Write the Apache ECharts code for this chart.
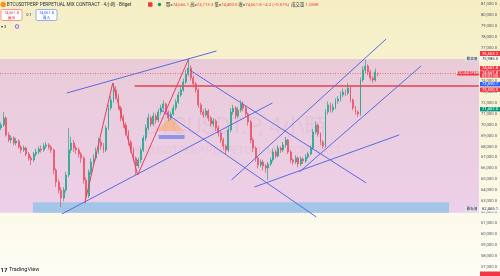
<!DOCTYPE html>
<html><head><meta charset="utf-8">
<script src="https://cdn.jsdelivr.net/npm/echarts@6/dist/echarts.min.js"></script>
<style>html,body{margin:0;padding:0;background:#fff}#c{width:500px;height:276px}</style>
</head><body><div id="c"></div>
<script>
// 4h candles: [open, close, low, high]
const candles = [
[69700,69960,69500,70200],[69960,70600,69800,71150],[70600,69050,68900,70750],[69050,68590,68400,69300],
[68590,68770,68300,69000],[68770,68320,68100,68950],[68320,68500,68100,68800],[68500,67950,67800,68650],
[67950,67680,67400,68100],[67680,67860,67500,68100],[67860,67310,67100,68000],[67310,66950,66700,67500],
[66950,66770,66300,67150],[66770,67310,66600,67500],[67310,67500,67100,67800],[67500,67770,67300,68000],
[67770,67680,67450,68100],[67680,68040,67500,68300],[68040,68140,67800,68400],[68140,67950,67700,68300],
[67950,67680,67400,68100],[67680,65850,65500,67800],[65850,64760,64300,66000],[64760,64030,63700,65000],
[64030,63300,62465.1,64300],[63300,64030,63000,64300],[64030,65400,63800,65700],[65400,67680,65200,69700],
[67680,68320,67400,68900],[68320,67860,67500,68600],[67860,67680,67300,68100],[67680,67310,67000,67900],
[67310,66950,66500,67500],[66950,64940,64600,67100],[64940,63480,62840,65200],[63480,65670,63300,65900],
[65670,66580,65400,66900],[66580,66950,66300,67300],[66950,67500,66700,67900],[67500,68410,67300,68800],
[68410,68040,67700,68700],[68040,67680,67400,68300],[67680,69690,67500,69900],[69690,71510,69500,71800],
[71510,72240,71300,72600],[72240,73150,72000,73790],[73150,72610,72300,73500],[72610,71510,71300,72800],
[71510,70600,70300,71700],[70600,69960,69700,70900],[69960,69320,69000,70200],[69320,68410,68100,69500],
[68410,67680,67400,68600],[67680,66950,66600,67900],[66950,66220,65400,67100],[66220,66770,66000,67000],
[66770,67680,66500,67900],[67680,68770,67500,69000],[68770,69690,68500,70000],[69690,70600,69500,71000],
[70600,70050,69800,70800],[70050,70780,69900,71100],[70780,70420,70100,71000],[70420,71150,70200,71400],
[71150,71510,70900,71800],[71510,71880,71300,72200],[71880,71150,70900,72000],[71150,70600,70300,71300],
[70600,70960,70400,71200],[70960,71510,70800,71800],[71510,72060,71300,72300],[72060,72700,71900,73000],
[72700,73150,72500,73500],[73150,73880,73000,74200],[73880,74610,73700,75000],[74610,75160,74400,75985.5],
[75160,74250,74000,75400],[74250,73700,73400,74500],[73700,73150,72900,73900],[73150,71790,71500,73300],
[71790,71150,70900,72000],[71150,70870,70600,71400],[70870,71240,70700,71500],[71240,70600,70300,71400],
[70600,70050,69800,70800],[70050,70330,69800,70600],[70330,69690,69400,70500],[69690,69230,68900,69900],
[69230,68590,68300,69400],[68590,68040,67700,68800],[68040,67680,67300,68200],[67680,69500,67500,69800],
[69500,71150,69300,71500],[71150,71510,70900,71800],[71510,70780,70500,71700],[70780,71330,70600,71600],
[71330,71880,71100,72200],[71880,71510,71200,72100],[71510,70960,70700,71700],[70960,70230,69900,71100],
[70230,68590,68300,70400],[68590,67860,67500,68800],[67860,66950,66600,68000],[66950,66310,66000,67100],
[66310,66580,66100,66800],[66580,66220,65800,66800],[66220,66040,65600,66400],[66040,66400,64940,66600],
[66400,66770,66200,67000],[66770,67500,66600,67800],[67500,67130,66900,67700],[67130,67860,67000,68100],
[67860,67680,67400,68000],[67680,68140,67500,68400],[68140,68590,67900,68870],[68590,67500,67300,68700],
[67500,66770,66500,67700],[66770,66580,66300,66900],[66580,66950,66400,67200],[66950,66400,66100,67100],
[66400,66860,66200,67100],[66860,66680,66400,67000],[66680,67040,66500,67300],[67040,67310,66900,67500],
[67310,67860,67200,68100],[67860,69320,67700,69600],[69320,69960,69100,70300],[69960,69140,68900,70100],
[69140,68410,68100,69300],[68410,68040,67800,68600],[68040,71150,67900,71400],[71150,71790,70900,72100],
[71790,71330,71100,72000],[71330,71600,71100,71900],[71600,72150,71400,72400],[72150,72330,71900,72600],
[72330,72700,72100,73000],[72700,72970,72500,73300],[72970,72880,72600,73200],[72880,73340,72700,73790],
[73340,72240,72000,73500],[72240,71510,71300,72400],[71510,71150,70900,71700],[71150,70960,70700,71300],
[70960,74070,70800,74300],[74070,74980,73900,75300],[74980,75340,74700,75890],[75340,74800,74500,75500],
[74800,74250,74000,75000],[74250,74070,73800,74400],[74070,74800,73900,75100],[74666.1,74661.8,74400,74713.3]
];
const slotCount = 192; // bars visible including empty space to the right

// trend lines: [barIndex1, price1, barIndex2, price2]
const trendLines = [
  [26.3, 72880, 86.3, 76712],
  [24.3, 61840, 108.7, 71967],
  [75.5, 74978, 146.3, 64668],
  [63.5, 71420, 126.3, 61566],
  [92.3, 64942, 154.3, 77807],
  [119.5, 65672, 168.3, 75343],
  [101.5, 64303, 159.5, 69048]
];
const zigzag = [[33.5, 62843], [44.7, 73792], [54.7, 65398], [75.1, 75985.5]];
const resistance = { from: 53.5, to: 191.5, price: 73500 };
const lastPrice = 74661.8;
const rangeBox = [75985.5, 61950];
const demandZone = [12.7, 62900, 179.5, 61950];
const arrowTriangle = [[62.3, 69413], [67.9, 70690], [73.1, 69413]];
const arrowBar = [63.1, 69048, 73.5, 68683];

const slots = candles.map((_, i) => 'b' + i);
while (slots.length < slotCount) slots.push('f' + slots.length);

const FONT = 'Roboto, "Noto Sans CJK TC", sans-serif';
const chart = echarts.init(document.getElementById('c'), null, { renderer: 'canvas' });
const fmt = v => v.toLocaleString('en-US', { minimumFractionDigits: 1, maximumFractionDigits: 1 });

function tag(y, h, fill, lines, txtColor) {
  const els = [{ type: 'rect', shape: { x: 480, y: y, width: 20, height: h }, style: { fill: fill }, z: 50 }];
  lines.forEach((t, k) => els.push({ type: 'text', x: 482, y: y + h / (lines.length * 2) * (2 * k + 1), z: 51,
    style: { text: t, fill: txtColor || '#fff', font: '4.2px ' + FONT, verticalAlign: 'middle' } }));
  return els;
}
function sideTag(x, y, w, h, fill, t, col) {
  return [{ type: 'rect', shape: { x: x, y: y, width: w, height: h, r: 0.8 }, style: { fill: fill }, z: 50 },
    { type: 'text', x: x + w / 2, y: y + h / 2, z: 51, style: { text: t, fill: col, font: '3.6px ' + FONT, align: 'center', verticalAlign: 'middle' } }];
}

const graphics = [].concat(
  // watermark
  [{ type: 'text', x: 236, y: 128, z: 1, style: { text: 'BTCUSDT.P, 4小時', font: '23px ' + FONT, fill: 'rgba(170,110,150,0.13)', align: 'center', verticalAlign: 'middle' } },
   { type: 'text', x: 237, y: 151, z: 1, style: { text: 'BTCUSDTPERP PERPETUAL MIX CONTRACT', font: '10.5px ' + FONT, fill: 'rgba(170,110,150,0.13)', align: 'center', verticalAlign: 'middle' } }],
  // header row 1
  [{ type: 'circle', shape: { cx: 3.2, cy: 4.5, r: 2.7 }, style: { fill: '#f7931a' } },
   { type: 'text', x: 6.8, y: 4.6, style: { text: 'BTCUSDTPERP PERPETUAL MIX CONTRACT · 4小時 · Bitget', font: '4.7px ' + FONT, fill: '#2a2e39', verticalAlign: 'middle' } },
   { type: 'rect', shape: { x: 148, y: 2.2, width: 4.5, height: 4.5, r: 0.6 }, style: { fill: '#f23645' } },
   { type: 'circle', shape: { cx: 159.5, cy: 4.5, r: 1.7 }, style: { fill: '#089981' } },
   { type: 'text', x: 166, y: 4.6, style: { text: '{k|開=}{v|74,666.1} {k|高=}{v|74,713.3} {k|低=}{v|74,400.0} {k|收=}{v|74,661.8 −4.3 (−0.01%)}  {k|成交量} {v|1.285K}',
       font: '4.3px ' + FONT, verticalAlign: 'middle', rich: { k: { fill: '#2a2e39', font: '4.3px ' + FONT }, v: { fill: '#f23645', font: '4.3px ' + FONT } } } }],
  // header row 2: sell / buy boxes
  [{ type: 'rect', shape: { x: 1, y: 9.5, width: 21, height: 11, r: 1.5 }, style: { fill: '#fff', stroke: '#f23645', lineWidth: 0.5 } },
   { type: 'text', x: 11.5, y: 12.8, style: { text: '74,661.8', font: '3.8px ' + FONT, fill: '#f23645', align: 'center', verticalAlign: 'middle' } },
   { type: 'text', x: 11.5, y: 17.6, style: { text: '賣出', font: '3.8px ' + FONT, fill: '#f23645', align: 'center', verticalAlign: 'middle' } },
   { type: 'text', x: 29, y: 15, style: { text: '0.1', font: '4px ' + FONT, fill: '#2a2e39', align: 'center', verticalAlign: 'middle' } },
   { type: 'rect', shape: { x: 36, y: 9.5, width: 21, height: 11, r: 1.5 }, style: { fill: '#fff', stroke: '#2962ff', lineWidth: 0.5 } },
   { type: 'text', x: 46.5, y: 12.8, style: { text: '74,661.8', font: '3.8px ' + FONT, fill: '#2962ff', align: 'center', verticalAlign: 'middle' } },
   { type: 'text', x: 46.5, y: 17.6, style: { text: '買入', font: '3.8px ' + FONT, fill: '#2962ff', align: 'center', verticalAlign: 'middle' } },
   { type: 'text', x: 1, y: 26.5, style: { text: '▾ 3', font: '4px ' + FONT, fill: '#2a2e39', verticalAlign: 'middle' } },
   { type: 'circle', shape: { cx: 17, cy: 26.5, r: 1.8 }, style: { fill: 'none', stroke: '#7b61ff', lineWidth: 1 } }],
  // price tags on the scale
  tag(51, 5, '#f23645', ['76,563.2']),
  tag(56.8, 4.6, '#f7f7f4', [fmt(rangeBox[0])], '#2a2e39'),
  sideTag(465, 56.9, 14, 4.4, '#e4e6ee', '最高價', '#2a2e39'),
  tag(66, 4.6, '#f23645', [fmt(lastPrice)]),
  tag(71, 6.6, '#f23645', [fmt(lastPrice), '03:37:00']),
  sideTag(457, 71, 22, 4.4, '#f23645', 'BTCUSDTPERP', '#fff'),
  tag(82, 4.4, '#2962ff', ['73,890.1']),
  tag(87.5, 4.4, '#f23645', [fmt(resistance.price)]),
  tag(107, 4.4, '#089981', ['71,467.0']),
  tag(207, 4.6, '#f7f7f4', ['62,465.1'], '#2a2e39'),
  sideTag(465, 207.1, 14, 4.4, '#e4e6ee', '最低價', '#2a2e39'),
  tag(271.5, 4.5, '#f23645', ['']),
  // logo
  [{ type: 'text', x: 0.5, y: 270, style: { text: '17', font: 'bold 6px ' + FONT, fill: '#131722', verticalAlign: 'middle' } },
   { type: 'text', x: 9, y: 270, style: { text: 'TradingView', font: '5.5px ' + FONT, fill: '#131722', verticalAlign: 'middle' } }]
);

chart.setOption({
  animation: false,
  backgroundColor: { type: 'linear', x: 0, y: 0, x2: 0, y2: 1,
    colorStops: [{ offset: 0, color: '#f5eec3' }, { offset: 1, color: '#fefdf5' }] },
  grid: { left: 0, right: 20, top: 4, height: 263 },
  xAxis: [
    { type: 'category', data: slots, boundaryGap: true, show: false },
    { type: 'value', min: -0.5, max: slotCount - 0.5, show: false }
  ],
  yAxis: {
    type: 'value', position: 'right', min: 57000, max: 81000, interval: 1000, scale: true,
    splitLine: { show: false }, axisLine: { show: false }, axisTick: { show: false },
    axisLabel: { margin: 2, fontSize: 4.2, color: '#50535e', fontFamily: FONT, formatter: fmt }
  },
  series: [
    { name: 'zones', type: 'line', xAxisIndex: 1, data: [], z: 0, silent: true,
      markArea: { silent: true, data: [
        [{ yAxis: rangeBox[0], itemStyle: { color: 'rgba(214,150,232,0.42)' } }, { yAxis: rangeBox[1] }],
        [{ coord: [demandZone[0], demandZone[1]], itemStyle: { color: 'rgba(150,195,230,0.85)' } }, { coord: [demandZone[2], demandZone[3]] }],
        [{ coord: [arrowBar[0], arrowBar[1]], itemStyle: { color: 'rgba(110,130,235,0.75)' } }, { coord: [arrowBar[2], arrowBar[3]] }]
      ] } },
    { name: 'arrow', type: 'custom', xAxisIndex: 1, z: 1, silent: true, data: [[0, 70000]],
      renderItem: (p, api) => ({ type: 'polygon', shape: { points: arrowTriangle.map(pt => api.coord(pt)) },
        style: { fill: 'rgba(245,175,120,0.7)' } }) },
    { name: 'BTCUSDT', type: 'candlestick', data: candles, z: 3, barWidth: 1.4,
      itemStyle: { color: '#1fa58c', color0: '#ec4d62', borderColor: '#1fa58c', borderColor0: '#ec4d62', borderWidth: 0.7 } },
    { name: 'levels', type: 'line', xAxisIndex: 1, data: [], z: 4, silent: true,
      markLine: { silent: true, symbol: 'none', label: { show: false }, data: [
        [{ coord: [-0.5, lastPrice], lineStyle: { color: '#e8506a', type: [1, 1.5], width: 0.8 } }, { coord: [slotCount - 0.5, lastPrice] }],
        [{ coord: [resistance.from, resistance.price], lineStyle: { color: 'rgba(230,80,100,0.85)', type: 'solid', width: 2 } }, { coord: [resistance.to, resistance.price] }]
      ] } },
    { name: 'trend', type: 'line', xAxisIndex: 1, data: [], z: 5, silent: true,
      markLine: { silent: true, symbol: 'none', label: { show: false },
        lineStyle: { color: '#5a6ae0', type: 'solid', width: 1 },
        data: trendLines.map(t => [{ coord: [t[0], t[1]] }, { coord: [t[2], t[3]] }]) } },
    { name: 'pattern', type: 'line', xAxisIndex: 1, data: zigzag, z: 5, silent: true, symbol: 'none',
      lineStyle: { color: '#e5405c', width: 1 } }
  ],
  graphic: { elements: graphics }
});
</script></body></html>
